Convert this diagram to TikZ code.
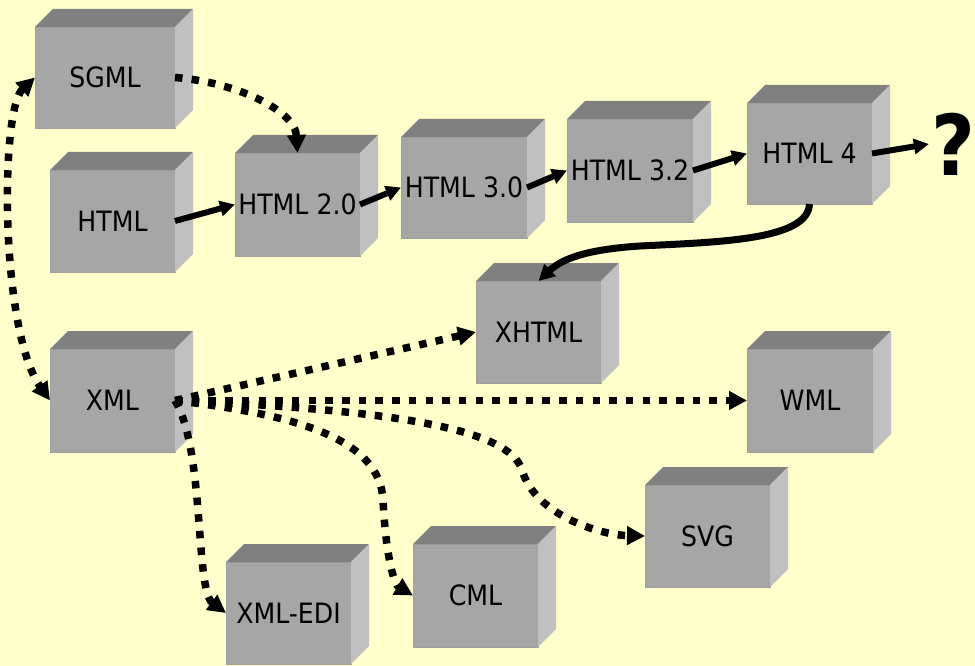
\documentclass[tikz,border=0pt]{standalone}
\usepackage{fontspec}
\setmainfont{DejaVu Sans}[FakeStretch=0.9]
\usetikzlibrary{arrows.meta}
\definecolor{bg}{HTML}{FFFFCC}
\definecolor{frontgray}{HTML}{A6A6A6}
\definecolor{topgray}{HTML}{808080}
\definecolor{sidegray}{HTML}{C0C0C0}
\definecolor{edgegray}{HTML}{9E9E9E}
\tikzset{
  cube/.style={fill=frontgray, draw=edgegray, line width=0.6pt, anchor=north west,
    inner sep=0pt, outer sep=0pt, font=\fontsize{28}{32}\selectfont, text=black},
  solidarrow/.style={line width=6pt, -{Triangle[length=15pt,width=15pt]}},
  curvearrow/.style={line width=7pt, -{Triangle[length=16pt,width=16pt]}},
  dotarrow/.style={line width=7.5pt, dash pattern=on 7.5pt off 9.2pt,
    -{Triangle[length=18pt,width=18pt]}},
  dotarrows/.style={dotarrow, {Triangle[length=18pt,width=18pt]}-{Triangle[length=18pt,width=18pt]}},
}
% a grey 3-D block: front face is the node, top and right faces are added
\newcommand\gcube[6]{% name, x, y, width, height, label
  \node[cube, minimum width=#4pt, minimum height=#5pt] (#1) at (#2,#3) {#6};
  \fill[topgray] (#1.north west) -- ++(18pt,18pt) -- ([shift={(18pt,18pt)}]#1.north east)
    -- (#1.north east) -- cycle;
  \fill[sidegray] (#1.north east) -- ++(18pt,18pt) -- ([shift={(18pt,18pt)}]#1.south east)
    -- (#1.south east) -- cycle;
}
\begin{document}
\begin{tikzpicture}[x=1pt, y=-1pt]
  \useasboundingbox (0,0) rectangle (975,666);
  \fill[bg] (0,0) rectangle (975,666);

  \gcube{sgml}{35}{27}{140}{101}{SGML}
  \gcube{html}{50}{170}{125}{102}{HTML}
  \gcube{html20}{235}{153}{125}{103}{HTML 2.0}
  \gcube{html30}{401}{137}{126}{101}{HTML 3.0}
  \gcube{html32}{567}{119}{126}{103}{HTML 3.2}
  \gcube{html4}{747}{103}{125}{101}{HTML 4}
  \gcube{xhtml}{476}{281}{125}{102}{XHTML}
  \gcube{xml}{50}{349}{125}{103}{XML}
  \gcube{wml}{747}{349}{126}{103}{WML}
  \gcube{svg}{645}{485}{125}{102}{SVG}
  \gcube{cml}{413}{544}{125}{103}{CML}
  \gcube{xmledi}{226}{562}{125}{102}{XML-EDI}

  \node[font=\fontsize{84}{90}\selectfont\bfseries, inner sep=2pt] (q) at (953,144) {?};

  % HTML line of versions
  \draw[solidarrow] (html.east) -- (html20.west);
  \draw[solidarrow] (html20.east) -- (html30.west);
  \draw[solidarrow] (html30.east) -- (html32.west);
  \draw[solidarrow] (html32.east) -- (html4.west);
  \draw[solidarrow] (html4.east) -- (q.west);
  \draw[curvearrow] (html4.south) .. controls (808,240) and (720,242) .. (640,246)
    .. controls (595,249) and (565,256) .. (xhtml.north);

  % SGML relations
  \draw[dotarrow] (sgml.east) .. controls (235,82) and (295,110) .. (html20.north);
  \draw[dotarrows] (sgml.west) .. controls (0,110) and (0,330) .. (xml.west);

  % XML family
  \draw[dotarrow] (xml.east) -- (xhtml.west);
  \draw[dotarrow] (xml.east) -- (wml.west);
  \draw[dotarrow] (xml.east) .. controls (400,410) and (510,430) .. (522,470)
    .. controls (535,515) and (600,535) .. (svg.west);
  \draw[dotarrow] (xml.east) .. controls (300,415) and (380,440) .. (383,500)
    .. controls (386,560) and (395,585) .. (cml.west);
  \draw[dotarrow] (xml.east) .. controls (205,450) and (195,590) .. (xmledi.west);
\end{tikzpicture}
\end{document}
